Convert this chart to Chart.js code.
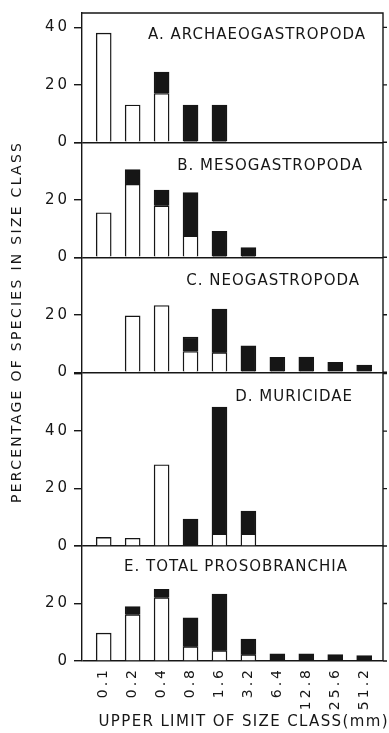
<!DOCTYPE html>
<html>
<head>
<meta charset="utf-8">
<script src="https://cdn.jsdelivr.net/npm/chart.js@4.4.1/dist/chart.umd.min.js"></script>
<style>
  html, body { margin: 0; padding: 0; background: #fff; }
  canvas { display: block; }
</style>
</head>
<body>
<canvas id="sizeChart" width="389" height="733"></canvas>
<script>
const sizeClasses = ['0.1', '0.2', '0.4', '0.8', '1.6', '3.2', '6.4', '12.8', '25.6', '51.2'];
const panelNames = ['A. ARCHAEOGASTROPODA', 'B. MESOGASTROPODA', 'C. NEOGASTROPODA', 'D. MURICIDAE', 'E. TOTAL PROSOBRANCHIA'];
const panelMax = [45, 40, 40, 60.5, 40];
const yTitle = 'PERCENTAGE OF SPECIES IN SIZE CLASS';
const xTitle = 'UPPER LIMIT OF SIZE CLASS(mm)';

// open (white) part of each bar, and the solid (black) part stacked on top of it
const openA  = [38, 13, 17, null, null, null, null, null, null, null];
const solidA = [null, null, 7.4, 13, 13, null, null, null, null, null];
const openB  = [15.5, 25.4, 17.9, 7.4, null, null, null, null, null, null];
const solidB = [null, 5.1, 5.5, 15.1, 9, 3.4, null, null, null, null];
const openC  = [null, 19.6, 23.2, 7.2, 6.8, null, null, null, null, null];
const solidC = [null, null, null, 5, 15.2, 9.2, 5.2, 5.3, 3.4, 2.5];
const openD  = [3, 2.7, 28.3, null, 4.2, 4.2, null, null, null, null];
const solidD = [null, null, null, 9.4, 44.2, 8, null, null, null, null];
const openE  = [9.7, 16.1, 22, 5, 3.6, 2.2, null, null, null, null];
const solidE = [null, 2.8, 2.9, 10, 19.7, 5.4, 2.5, 2.5, 2.2, 1.9];

const ink = '#161616';
const panelIds = ['yA', 'yB', 'yC', 'yD', 'yE'];
const openSeries = [openA, openB, openC, openD, openE];
const solidSeries = [solidA, solidB, solidC, solidD, solidE];
const nameInset = [17, 20, 23, 30, 35];
const nameDrop = [26, 28, 28, 29, 25];

function toPoints(arr) {
    return arr.map((v, i) => ({x: i, y: v}));
}

let datasets = [];
panelIds.forEach((id, p) => {
    datasets.push({
        data: toPoints(openSeries[p]), yAxisID: id, stack: 'all',
        backgroundColor: '#fff', borderColor: ink, borderWidth: 1.4, barThickness: 15
    });
    datasets.push({
        data: toPoints(solidSeries[p]), yAxisID: id, stack: 'all',
        backgroundColor: ink, borderColor: ink, borderWidth: 1.4, barThickness: 15
    });
});

let scales = {
    x: {
        type: 'linear', min: -0.75, max: 9.65, stacked: true, offset: false,
        grid: { display: false, drawTicks: false },
        border: { display: false },
        ticks: {
            stepSize: 1, includeBounds: false, autoSkip: false,
            maxRotation: 90, minRotation: 90, padding: 6, color: ink,
            font: { family: 'DejaVu Sans', size: 14 },
            callback: v => sizeClasses[v]
        },
        afterFit: s => { s.height = 72; }
    }
};
panelIds.forEach((id, p) => {
    scales[id] = {
        type: 'linear', position: 'left', stack: 'panels',
        stackWeight: panelMax[p], weight: 5 - p,
        stacked: true, min: 0, max: panelMax[p],
        grid: {
            color: ctx => (ctx.tick && ctx.tick.value === 0) ? ink : 'rgba(0,0,0,0)',
            tickColor: ink, tickLength: 8, lineWidth: 1.4
        },
        border: { display: true, color: ink, width: 1.4 },
        ticks: {
            stepSize: 10, includeBounds: false, padding: 4, color: ink,
            font: { family: 'DejaVu Sans', size: 15 },
            callback: v => (v % 20 === 0 && v <= panelMax[p] - 4) ? String(v) : ''
        },
        afterFit: s => { s.width = 82; }
    };
});

function fitText(ctx, text, cx, cy, width) {
    ctx.letterSpacing = '0px';
    const w = ctx.measureText(text).width;
    const ls = (width - w) / (text.length - 1);
    ctx.letterSpacing = ls + 'px';
    ctx.textAlign = 'left';
    ctx.fillText(text, cx - width / 2, cy);
}

const decorations = {
    id: 'decorations',
    beforeUpdate(chart) { chart.ctx.letterSpacing = '3px'; },
    beforeDraw(chart) { chart.ctx.letterSpacing = '3px'; },
    afterDraw(chart) {
        const ctx = chart.ctx;
        const a = chart.chartArea;
        ctx.save();
        ctx.strokeStyle = ink;
        ctx.lineWidth = 1.4;
        ctx.beginPath();
        ctx.moveTo(a.left, a.top);
        ctx.lineTo(a.right, a.top);
        ctx.lineTo(a.right, a.bottom);
        panelIds.forEach(id => {
            const s = chart.scales[id];
            s.ticks.forEach(t => {
                const y = s.getPixelForValue(t.value);
                ctx.moveTo(a.right, y);
                ctx.lineTo(a.right + 4, y);
            });
        });
        ctx.stroke();

        ctx.fillStyle = ink;
        ctx.font = '15px "DejaVu Sans"';
        ctx.textAlign = 'right';
        ctx.textBaseline = 'alphabetic';
        ctx.letterSpacing = '1px';
        panelIds.forEach((id, p) => {
            const s = chart.scales[id];
            ctx.fillText(panelNames[p], a.right - nameInset[p], s.top + nameDrop[p]);
        });

        ctx.font = '15px "DejaVu Sans"';
        fitText(ctx, xTitle, 243, 726, 289);

        ctx.translate(17, 323);
        ctx.rotate(-Math.PI / 2);
        ctx.font = '14px "DejaVu Sans"';
        ctx.textBaseline = 'middle';
        fitText(ctx, yTitle, 0, 0, 360);
        ctx.restore();
    }
};

new Chart(document.getElementById('sizeChart'), {
    type: 'bar',
    data: { datasets: datasets },
    options: {
        responsive: false,
        animation: false,
        layout: { padding: { top: 6, right: 6, bottom: 0, left: 0 } },
        plugins: { legend: { display: false }, tooltip: { enabled: false } },
        scales: scales
    },
    plugins: [decorations]
});
</script>
</body>
</html>
